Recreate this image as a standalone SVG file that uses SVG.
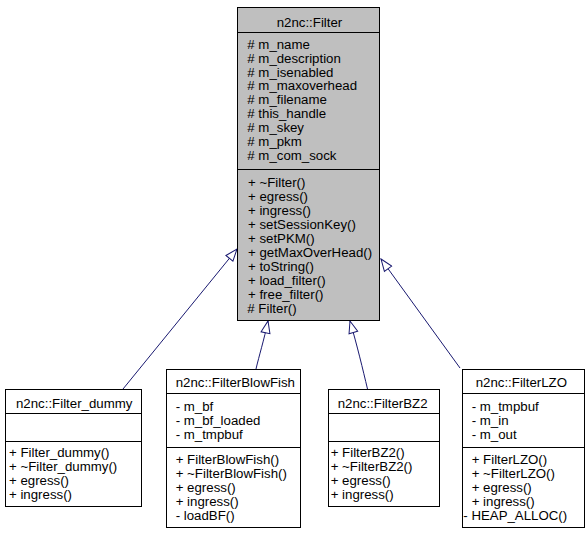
<svg xmlns="http://www.w3.org/2000/svg" width="587" height="533" viewBox="0 0 587 533">
<style>
text{font-family:"Liberation Sans",Arial,Helvetica,sans-serif;font-size:13.25px;fill:#000}
.box{fill:#fff;stroke:#000;stroke-width:1}
.main{fill:#bfbfbf;stroke:#000;stroke-width:1}
.sep{stroke:#000;stroke-width:1}
.edge{fill:none;stroke:#191970;stroke-width:1;marker-end:url(#inh)}
</style>
<defs>
<marker id="inh" markerUnits="userSpaceOnUse" viewBox="-1 -1 14 11" markerWidth="14" markerHeight="11" refX="12" refY="4.5" orient="auto">
<path d="M0,0 L12,4.5 L0,9 Z" fill="#fff" stroke="#191970" stroke-width="1"/>
</marker>
</defs>
<rect width="587" height="533" fill="#fff"/>
<g id="connectors">
<path class="edge" d="M123,389 L237,249"/>
<path class="edge" d="M256,369 C259,356 264,340 268,321"/>
<path class="edge" d="M367.5,389 C363,370 357,345 350,321"/>
<path class="edge" d="M460,368 L381,259"/>
</g>
<g id="Filter">
<rect class="main" x="237.5" y="7.5" width="142" height="313"/>
<line class="sep" x1="237.5" y1="32.5" x2="379.5" y2="32.5"/>
<line class="sep" x1="237.5" y1="169.5" x2="379.5" y2="169.5"/>
<text x="276.7" y="26.5">n2nc::Filter</text>
<text x="247.3" y="48.7"># m_name</text>
<text x="247.3" y="62.6"># m_description</text>
<text x="247.3" y="76.5"># m_isenabled</text>
<text x="247.3" y="90.4"># m_maxoverhead</text>
<text x="247.3" y="104.3"># m_filename</text>
<text x="247.3" y="118.2"># this_handle</text>
<text x="247.3" y="132.1"># m_skey</text>
<text x="247.3" y="146"># m_pkm</text>
<text x="247.3" y="159.9"># m_com_sock</text>
<text x="248" y="187">+ ~Filter()</text>
<text x="248" y="201">+ egress()</text>
<text x="248" y="215">+ ingress()</text>
<text x="248" y="229">+ setSessionKey()</text>
<text x="248" y="243">+ setPKM()</text>
<text x="248" y="257">+ getMaxOverHead()</text>
<text x="248" y="271">+ toString()</text>
<text x="248" y="285">+ load_filter()</text>
<text x="248" y="299">+ free_filter()</text>
<text x="247.3" y="313"># Filter()</text>
</g>
<g id="Filter_dummy">
<rect class="box" x="5.5" y="389.5" width="136" height="117"/>
<line class="sep" x1="5.5" y1="413.5" x2="141.5" y2="413.5"/>
<line class="sep" x1="5.5" y1="441.5" x2="141.5" y2="441.5"/>
<text x="16" y="408">n2nc::Filter_dummy</text>
<text x="9" y="456.5">+ Filter_dummy()</text>
<text x="9" y="470.5">+ ~Filter_dummy()</text>
<text x="9" y="484.5">+ egress()</text>
<text x="9" y="498.5">+ ingress()</text>
</g>
<g id="FilterBlowFish">
<rect class="box" x="166.5" y="369.5" width="134" height="158"/>
<line class="sep" x1="166.5" y1="393.5" x2="300.5" y2="393.5"/>
<line class="sep" x1="166.5" y1="447.5" x2="300.5" y2="447.5"/>
<text x="175.7" y="386.5">n2nc::FilterBlowFish</text>
<text x="175.7" y="411">- m_bf</text>
<text x="175.7" y="425">- m_bf_loaded</text>
<text x="175.7" y="439">- m_tmpbuf</text>
<text x="175.7" y="463.5">+ FilterBlowFish()</text>
<text x="175.7" y="477.5">+ ~FilterBlowFish()</text>
<text x="175.7" y="491.5">+ egress()</text>
<text x="175.7" y="505.5">+ ingress()</text>
<text x="175.7" y="519.5">- loadBF()</text>
</g>
<g id="FilterBZ2">
<rect class="box" x="328.5" y="389.5" width="111" height="117"/>
<line class="sep" x1="328.5" y1="413.5" x2="439.5" y2="413.5"/>
<line class="sep" x1="328.5" y1="441.5" x2="439.5" y2="441.5"/>
<text x="337.7" y="408">n2nc::FilterBZ2</text>
<text x="330.7" y="456.5">+ FilterBZ2()</text>
<text x="330.7" y="470.5">+ ~FilterBZ2()</text>
<text x="330.7" y="484.5">+ egress()</text>
<text x="330.7" y="498.5">+ ingress()</text>
</g>
<g id="FilterLZO">
<rect class="box" x="462.5" y="369.5" width="122" height="158"/>
<line class="sep" x1="462.5" y1="393.5" x2="584.5" y2="393.5"/>
<line class="sep" x1="462.5" y1="447.5" x2="584.5" y2="447.5"/>
<text x="475.7" y="386.5">n2nc::FilterLZO</text>
<text x="471.7" y="411">- m_tmpbuf</text>
<text x="471.7" y="425">- m_in</text>
<text x="471.7" y="439">- m_out</text>
<text x="471.7" y="463.5">+ FilterLZO()</text>
<text x="471.7" y="477.5">+ ~FilterLZO()</text>
<text x="471.7" y="491.5">+ egress()</text>
<text x="471.7" y="505.5">+ ingress()</text>
<text x="463.3" y="519.5">- HEAP_ALLOC()</text>
</g>
</svg>
